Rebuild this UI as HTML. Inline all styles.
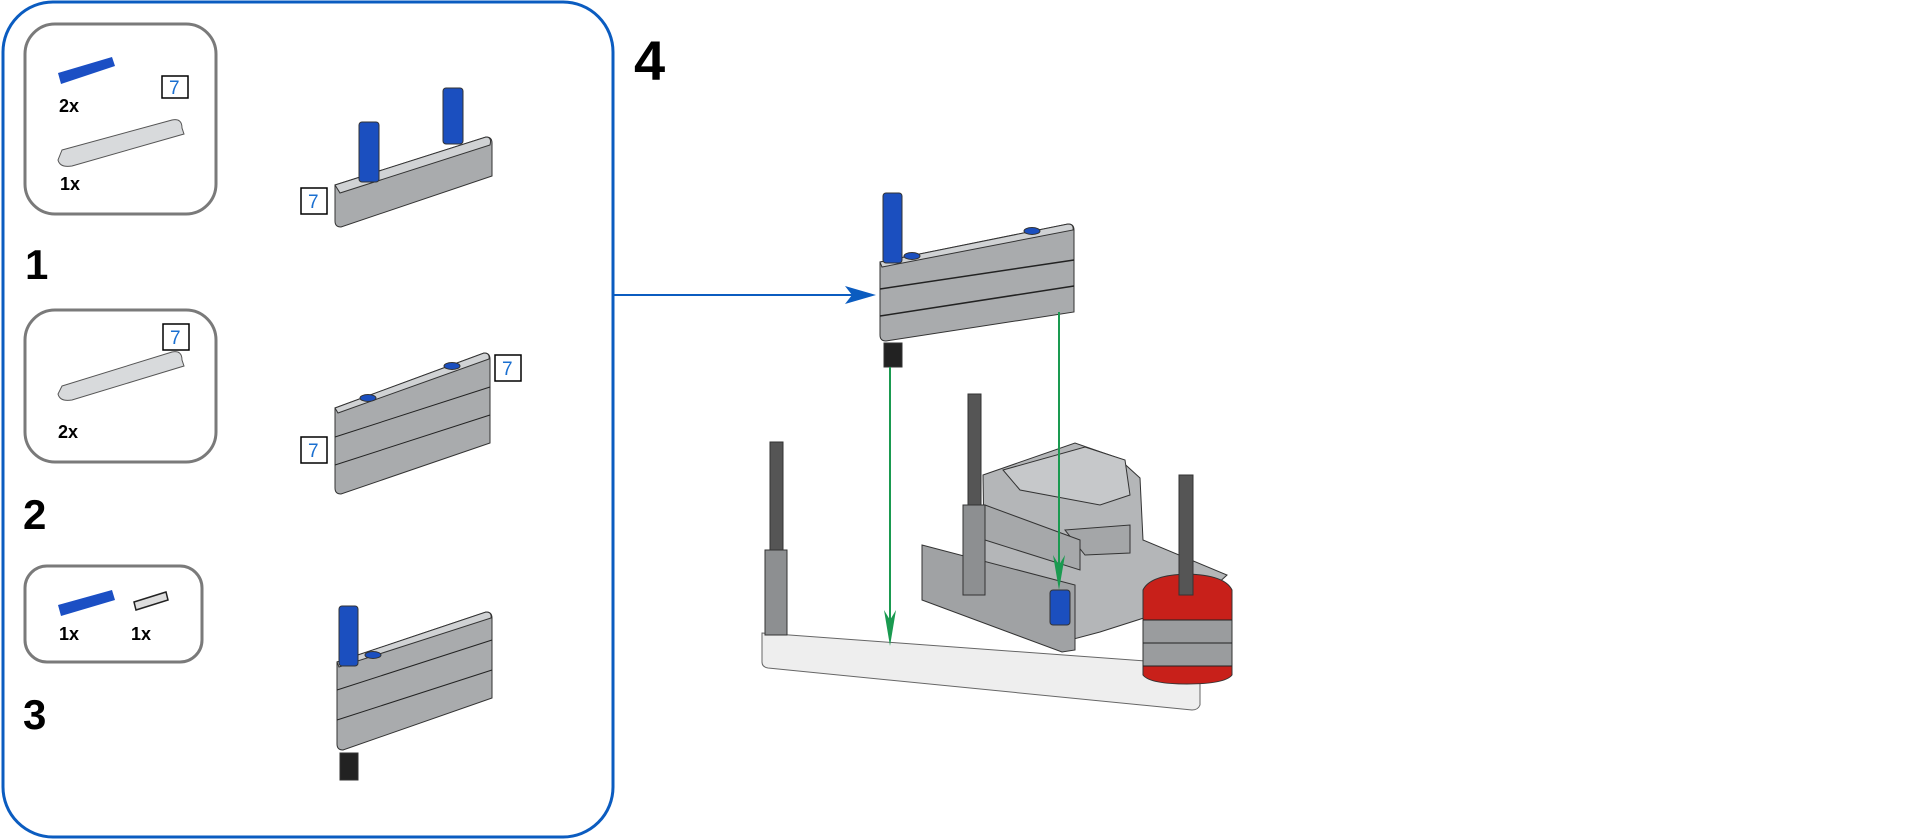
<!DOCTYPE html>
<html><head><meta charset="utf-8"><style>
html,body{margin:0;padding:0;background:#fff;width:1920px;height:840px;overflow:hidden}
svg{display:block}
text{font-family:"Liberation Sans",sans-serif}
</style></head><body>
<svg width="1920" height="840" viewBox="0 0 1920 840" xmlns="http://www.w3.org/2000/svg">
<rect x="3" y="2" width="610" height="835" rx="50" fill="#fff" stroke="#0b5cc0" stroke-width="3"/>
<rect x="25" y="24" width="191" height="190" rx="30" fill="#fff" stroke="#7a7a7a" stroke-width="3"/>
<rect x="25" y="310" width="191" height="152" rx="30" fill="#fff" stroke="#7a7a7a" stroke-width="3"/>
<rect x="25" y="566" width="177" height="96" rx="22" fill="#fff" stroke="#7a7a7a" stroke-width="3"/>
<g font-weight="bold" fill="#000">
<text x="25" y="279" font-size="42">1</text>
<text x="23" y="529" font-size="42">2</text>
<text x="23" y="729" font-size="42">3</text>
<text x="634" y="80" font-size="56">4</text>
<text x="59" y="112" font-size="18">2x</text>
<text x="60" y="190" font-size="18">1x</text>
<text x="58" y="438" font-size="18">2x</text>
<text x="59" y="640" font-size="18">1x</text>
<text x="131" y="640" font-size="18">1x</text>
</g>
<g fill="#fff" stroke="#000" stroke-width="1.5">
<rect x="162" y="76" width="26" height="22"/>
<rect x="163" y="324" width="26" height="26"/>
<rect x="301" y="188" width="26" height="26"/>
<rect x="495" y="355" width="26" height="26"/>
<rect x="301" y="437" width="26" height="26"/>
</g>
<g fill="#1a6fd0" font-size="19">
<text x="169" y="94">7</text><text x="170" y="344">7</text>
<text x="308" y="208">7</text><text x="502" y="375">7</text><text x="308" y="457">7</text>
</g>
<g stroke="#555" stroke-width="1">
<path d="M62 150 L172 120 Q182 118 182 128 L184 134 L72 166 Q60 168 58 160 Z" fill="#d8dadc"/>
<path d="M62 386 L172 352 Q182 350 182 360 L184 366 L72 400 Q60 402 58 394 Z" fill="#d8dadc"/>
</g>
<g fill="#1b4fc4"><path d="M58 73 L112 57 L115 66 L61 84 Z"/><path d="M58 605 L112 590 L115 600 L61 616 Z"/></g>
<path d="M134 602 L166 592 L168 600 L136 610 Z" fill="#ddd" stroke="#222" stroke-width="1.5"/>
<g stroke="#333" stroke-width="1">
<!-- step1 -->
<path d="M335 185 L486 137 Q492 137 492 143 L492 176 L341 227 Q335 227 335 221 Z" fill="#a9abad"/>
<path d="M335 185 L486 137 Q492 137 490 145 L340 193 Z" fill="#d0d2d4"/>
<rect x="359" y="122" width="20" height="60" rx="3" fill="#1b4fbf"/>
<rect x="443" y="88" width="20" height="56" rx="3" fill="#1b4fbf"/>
<!-- step2 -->
<path d="M335 408 L484 353 Q490 353 490 359 L490 443 L341 494 Q335 494 335 488 Z" fill="#a9abad"/>
<path d="M335 408 L484 353 Q490 353 489 359 L338 413 Z" fill="#d0d2d4"/>
<path d="M335 437 L490 387 M335 465 L490 415" fill="none" stroke="#222"/>
<ellipse cx="368" cy="398" rx="8" ry="3.5" fill="#1b4fbf"/><ellipse cx="452" cy="366" rx="8" ry="3.5" fill="#1b4fbf"/>
<!-- step3 -->
<path d="M337 662 L486 612 Q492 612 492 618 L492 698 L343 750 Q337 750 337 744 Z" fill="#a9abad"/>
<path d="M337 662 L486 612 Q492 612 491 618 L339 667 Z" fill="#d0d2d4"/>
<path d="M337 690 L492 640 M337 720 L492 670" fill="none" stroke="#222"/>
<rect x="339" y="606" width="19" height="60" rx="3" fill="#1b4fbf"/>
<ellipse cx="373" cy="655" rx="8" ry="3.5" fill="#1b4fbf"/>
<rect x="340" y="753" width="18" height="27" fill="#222"/>
<!-- main stack -->
<path d="M880 262 L1068 224 Q1074 224 1074 230 L1074 312 L886 341 Q880 341 880 335 Z" fill="#a9abad"/>
<path d="M880 262 L1068 224 Q1074 224 1073 230 L882 267 Z" fill="#d0d2d4"/>
<path d="M880 289 L1074 260 M880 316 L1074 286" fill="none" stroke="#222" stroke-width="1.5"/>
<rect x="883" y="193" width="19" height="70" rx="3" fill="#1b4fbf"/>
<ellipse cx="912" cy="256" rx="8" ry="3.5" fill="#1b4fbf"/>
<ellipse cx="1032" cy="231" rx="8" ry="3.5" fill="#1b4fbf"/>
<rect x="884" y="343" width="18" height="24" fill="#222"/>
<!-- base beam -->
<path d="M762 633 L1160 662 L1200 668 L1200 705 Q1198 710 1192 710 L768 668 Q762 667 762 662 Z" fill="#eeeeee" stroke="#666"/>
<!-- motor -->
<path d="M983 475 L1075 443 L1118 458 L1140 478 L1143 540 L1227 575 L1200 600 L1100 632 L1070 640 L985 600 Z" fill="#b4b6b8"/>
<path d="M1003 470 L1085 447 L1125 460 L1130 495 L1100 505 L1020 490 Z" fill="#c6c8ca"/>
<path d="M1065 530 L1130 525 L1130 553 L1085 555 Z" fill="#a4a6a8"/>
<path d="M922 545 L1075 585 L1075 650 L1062 652 L922 600 Z" fill="#a0a2a4"/>
<path d="M985 505 L1080 540 L1080 570 L985 540 Z" fill="#a6a8aa"/>
<path d="M1143 590 Q1150 575 1187 574 Q1225 575 1232 590 L1232 675 Q1225 684 1187 684 Q1150 684 1143 675 Z" fill="#c8201a"/>
<rect x="1143" y="620" width="89" height="46" fill="#9a9c9e"/>
<path d="M1143 620 L1232 620 M1143 643 L1232 643 M1143 666 L1232 666" stroke="#222"/>
<rect x="770" y="442" width="13" height="110" fill="#555"/>
<rect x="765" y="550" width="22" height="85" fill="#8d8f91"/>
<rect x="968" y="394" width="13" height="115" fill="#555"/>
<rect x="963" y="505" width="22" height="90" fill="#8d8f91"/>
<rect x="1179" y="475" width="14" height="120" fill="#555"/>
<rect x="1050" y="590" width="20" height="35" rx="3" fill="#1b4fbf"/>
</g>
<line x1="614" y1="295" x2="862" y2="295" stroke="#0b5cc0" stroke-width="2"/>
<path d="M845 286 L876 295 L845 304 L852 295 Z" fill="#0b5cc0"/>
<g stroke="#1a9a50" stroke-width="2">
<line x1="890" y1="367" x2="890" y2="630"/>
<line x1="1059" y1="312" x2="1059" y2="575"/>
</g>
<g fill="#1a9a50">
<path d="M884 610 L890 646 L896 610 L890 620 Z"/>
<path d="M1053 555 L1059 590 L1065 555 L1059 565 Z"/>
</g>
</svg>
</body></html>
